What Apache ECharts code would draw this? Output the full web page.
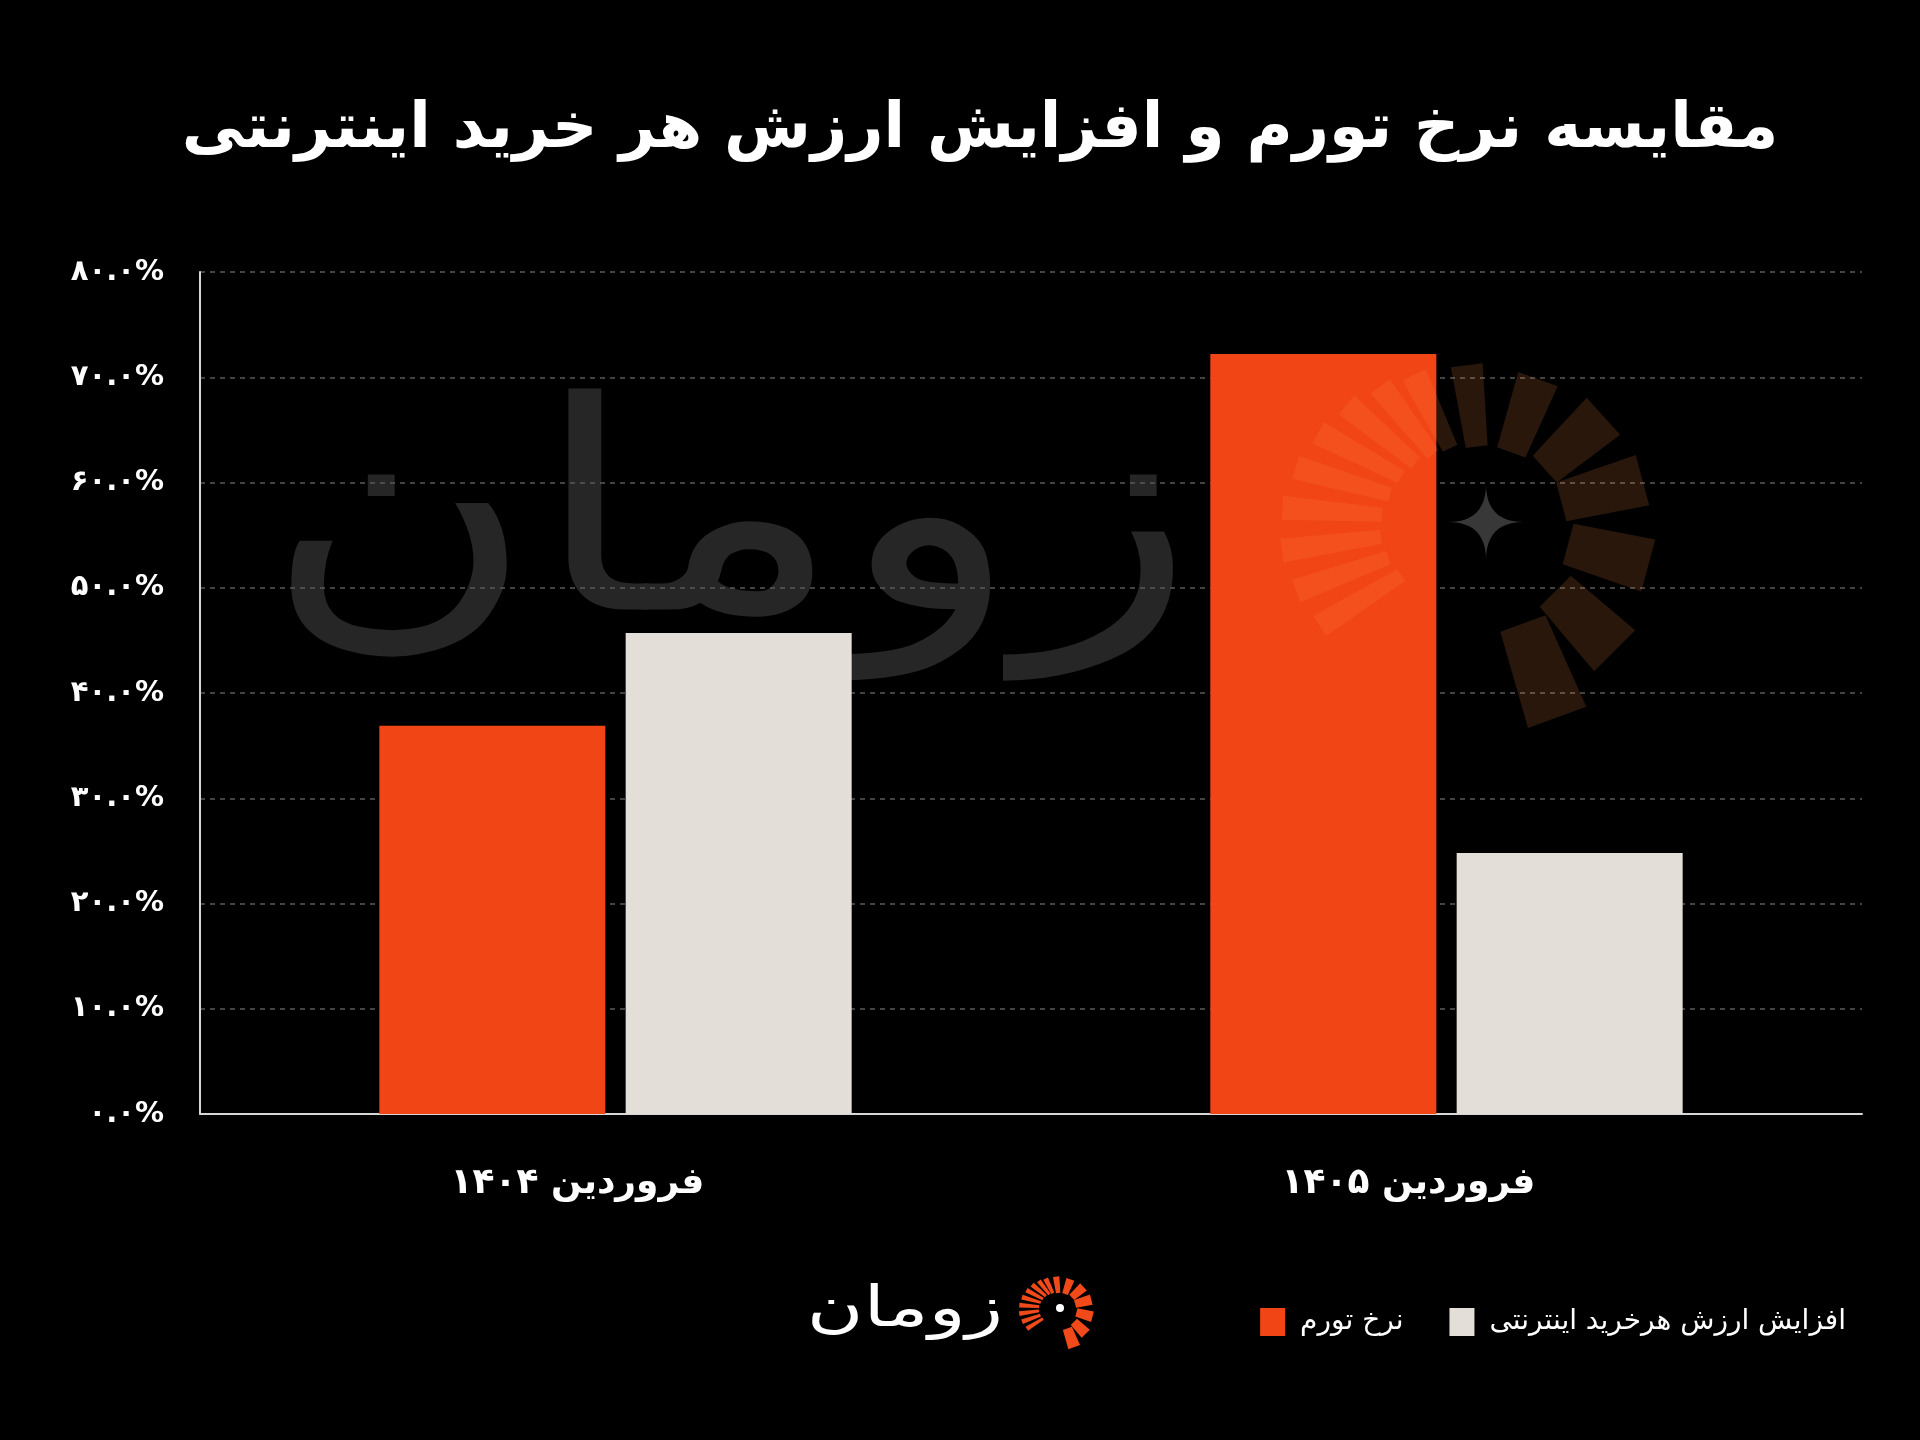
<!DOCTYPE html>
<html>
<head>
<meta charset="utf-8">
<script src="https://cdn.jsdelivr.net/npm/echarts@6/dist/echarts.min.js"></script>
<style>
html,body{margin:0;padding:0;background:#000;}
#chart{width:1920px;height:1440px;}
</style>
</head>
<body>
<div id="chart"></div>
<script>
// ---- data ----
const titleText = 'مقایسه نرخ تورم و افزایش ارزش هر خرید اینترنتی';
const categories = ['فروردین ۱۴۰۴', 'فروردین ۱۴۰۵'];
const inflationName = 'نرخ تورم';
const inflation = [36.9, 72.2];
const purchaseName = 'افزایش ارزش هرخرید اینترنتی';
const purchaseGrowth = [45.7, 24.8];
const yTickLabels = ['۰.۰%', '۱۰.۰%', '۲۰.۰%', '۳۰.۰%', '۴۰.۰%', '۵۰.۰%', '۶۰.۰%', '۷۰.۰%', '۸۰.۰%'];
const brandText = 'زومان';

const FONT = "'DejaVu Sans', 'Noto Sans', sans-serif";

// ---- decorative logo rays (angle deg, r0, r1, w0, w1) ----
const raySpec = [
  [148, 100, 196, 14, 24], [160, 104, 202, 14, 24], [172, 106, 206, 14, 24],
  [184, 104, 204, 14, 24], [196, 100, 198, 14, 24], [208, 96, 190, 14, 24],
  [220, 92, 182, 14, 24], [232, 86, 172, 14, 24], [244, 82, 164, 16, 26],
  [263, 76, 158, 22, 32], [290, 74, 152, 30, 42], [318, 79, 158, 36, 50],
  [345, 78, 162, 40, 52], [15, 85, 168, 42, 54], [45, 98, 182, 44, 58],
  [70, 108, 208, 48, 62]
];
function makeRays(cx, cy, s, fill, z) {
  return raySpec.map(function (r) {
    const a = r[0] * Math.PI / 180;
    const ux = Math.cos(a), uy = Math.sin(a);
    const nx = -uy, ny = ux;
    const r0 = r[1] * s, r1 = r[2] * s, w0 = r[3] * s / 2, w1 = r[4] * s / 2;
    return {
      type: 'polygon', z: z, silent: true,
      shape: { points: [
        [cx + ux * r0 + nx * w0, cy + uy * r0 + ny * w0],
        [cx + ux * r1 + nx * w1, cy + uy * r1 + ny * w1],
        [cx + ux * r1 - nx * w1, cy + uy * r1 - ny * w1],
        [cx + ux * r0 - nx * w0, cy + uy * r0 - ny * w0]
      ] },
      style: { fill: fill }
    };
  });
}
// four-point sparkle made of quadratic curves (decorative)
function sparkle(cx, cy, R) {
  const tips = [[0, -R], [R, 0], [0, R], [-R, 0]];
  const pts = [];
  for (let k = 0; k < 4; k++) {
    const p0 = tips[k], p2 = tips[(k + 1) % 4];
    for (let i = 0; i < 12; i++) {
      const t = i / 12;
      const x = (1 - t) * (1 - t) * p0[0] + t * t * p2[0];
      const y = (1 - t) * (1 - t) * p0[1] + t * t * p2[1];
      pts.push([cx + x, cy + y]);
    }
  }
  return { type: 'polygon', z: -5, silent: true, shape: { points: pts }, style: { fill: '#383838' } };
}

const chart = echarts.init(document.getElementById('chart'), null, { renderer: 'canvas' });

const graphics = [
  { type: 'text', z: -10, silent: true, x: 730, y: 534, scaleX: 1.22, scaleY: 0.97,
    style: { text: brandText, font: "normal 300px " + FONT, fill: '#262626',
             textAlign: 'center', textVerticalAlign: 'middle' } },
  sparkle(1486, 522, 38),
  { type: 'text', silent: true, x: 905, y: 1311, scaleX: 1.38,
    style: { text: brandText, font: "normal 56px " + FONT, fill: '#ffffff',
             textAlign: 'center', textVerticalAlign: 'middle' } },
  { type: 'circle', silent: true, shape: { cx: 1060, cy: 1308, r: 4 }, style: { fill: '#ffffff' } }
].concat(makeRays(1486, 522, 1, 'rgba(255,140,70,0.16)', 100))
 .concat(makeRays(1060, 1308, 0.2, '#f04a1a', 10));

chart.setOption({
  backgroundColor: '#000000',
  animation: false,
  title: {
    text: titleText,
    left: 975,
    top: 94,
    textAlign: 'center',
    textStyle: { color: '#ffffff', fontSize: 63, fontWeight: 'bold', fontFamily: FONT }
  },
  legend: {
    right: 69,
    top: 1303,
    itemWidth: 25,
    itemHeight: 28,
    itemGap: 46,
    icon: 'rect',
    data: [inflationName, purchaseName],
    textStyle: { color: '#ffffff', fontSize: 28, fontFamily: FONT, padding: [0, 0, 0, 10] }
  },
  grid: { left: 200, right: 58, top: 272, bottom: 326, outerBoundsMode: 'none' },
  xAxis: {
    type: 'category',
    data: categories,
    axisLine: { show: true, lineStyle: { color: '#d6d6d6', width: 2 } },
    axisTick: { show: false },
    axisLabel: { color: '#ffffff', fontSize: 36, fontWeight: 'bold', fontFamily: FONT, margin: 52,
                 padding: [0, 76, 0, 0] },
    splitLine: { show: false }
  },
  yAxis: {
    type: 'value',
    min: 0, max: 80, interval: 10,
    axisLine: { show: true, lineStyle: { color: '#d6d6d6', width: 2 } },
    axisTick: { show: false },
    axisLabel: {
      color: '#ffffff', fontSize: 29, fontWeight: 'bold', fontFamily: FONT, margin: 36,
      formatter: function (v) { return yTickLabels[Math.round(v / 10)]; }
    },
    splitLine: { show: true, lineStyle: { color: '#5a5a5a', width: 1.5, type: [5, 5] } }
  },
  series: [
    { name: inflationName, type: 'bar', data: inflation, barWidth: 226, barGap: '9%',
      itemStyle: { color: '#f24516' }, emphasis: { disabled: true } },
    { name: purchaseName, type: 'bar', data: purchaseGrowth, barWidth: 226, barGap: '9%',
      itemStyle: { color: '#e3dfd8' }, emphasis: { disabled: true } }
  ],
  graphic: { elements: graphics }
});
</script>
</body>
</html>
